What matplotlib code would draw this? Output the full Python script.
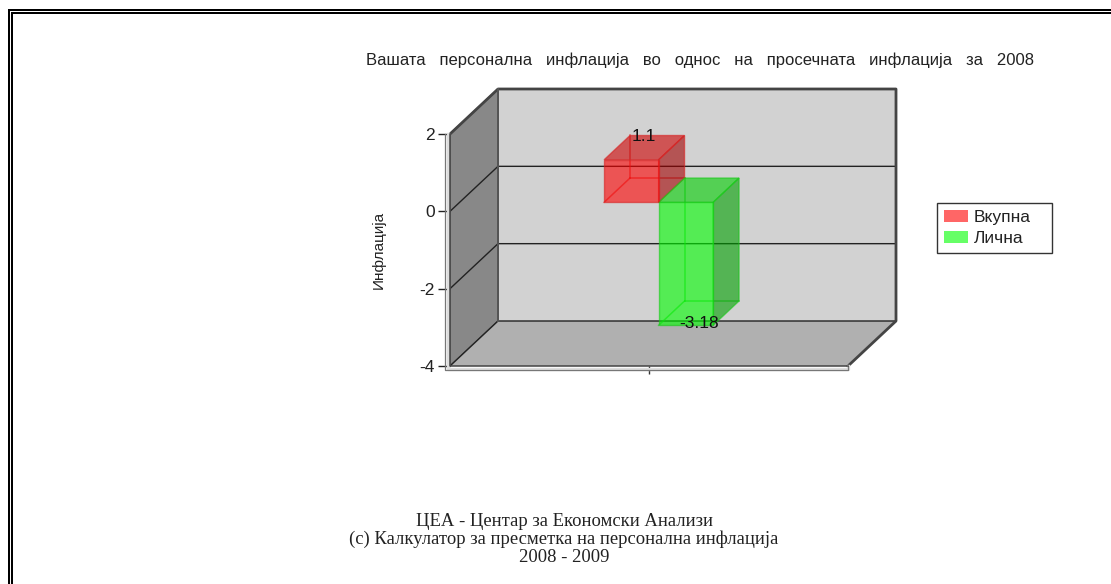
# -*- coding: utf-8 -*-
import numpy as np
import matplotlib
matplotlib.use("Agg")
import matplotlib.pyplot as plt
from matplotlib.patches import Patch, Polygon, Rectangle

# data
title = "Вашата   персонална   инфлација   во   однос   на   просечната   инфлација   за   2008"
series_names = ["Вкупна", "Лична"]
series_values = [1.1, -3.18]
series_labels = ["1.1", "-3.18"]
y_ticks = [-4, -2, 0, 2]
y_title = "Инфлација"
footer_lines = ["ЦЕА - Центар за Економски Анализи",
                "(с) Калкулатор за пресметка на персонална инфлација",
                "2008 - 2009"]

W, H = 1111, 584
BAR_W = 0.137
# depth of the fake 3d box, as axes units
DX = 48 / 398
DY = 45 / 232 * 6
Z0, Z1 = 0.2, 0.74

FACE = {"Вкупна": ("#ff0000", "#cd0000", "#a00000", "#d82020"),
        "Лична": ("#00ff00", "#00d000", "#00a000", "#18c818")}
LEGEND_COLORS = ["#ff6666", "#66ff66"]


def px_axes(fig, x0, y0, x1, y1):
    return fig.add_axes([x0 / W, 1 - y1 / H, (x1 - x0) / W, (y1 - y0) / H])


def shift(x, y, z):
    return (x + z * DX, y + z * DY)


def draw_box(ax, x0, x1, v, names):
    y0, y1 = min(0, v), max(0, v)
    front, top, side, edge = FACE[names]
    c = [shift(x0, y0, Z0), shift(x1, y0, Z0), shift(x1, y1, Z0), shift(x0, y1, Z0)]
    b = [shift(x0, y0, Z1), shift(x1, y0, Z1), shift(x1, y1, Z1), shift(x0, y1, Z1)]
    # hidden edges first
    for p, q in [(b[0], b[1]), (b[0], b[3]), (c[0], b[0])]:
        ax.plot([p[0], q[0]], [p[1], q[1]], color=edge, lw=1.1, alpha=0.6, clip_on=False, zorder=4)
    ax.add_patch(Polygon([c[1], b[1], b[2], c[2]], fc=side, ec=edge, lw=1.0, alpha=0.6, clip_on=False, zorder=5))
    ax.add_patch(Polygon([c[3], c[2], b[2], b[3]], fc=top, ec=edge, lw=1.0, alpha=0.6, clip_on=False, zorder=5))
    ax.add_patch(Polygon(c, fc=front, ec=edge, lw=1.0, alpha=0.6, clip_on=False, zorder=6))


def border_rect(fig, x0, y0, x1, y1):
    fig.add_artist(Rectangle((x0 / W, 1 - y1 / H), (x1 - x0) / W, (y1 - y0) / H, fc="black", ec="none",
                             antialiased=False, transform=fig.transFigure))


def main():
    plt.rcParams["font.family"] = ["Liberation Sans", "DejaVu Sans"]
    plt.rcParams["axes.unicode_minus"] = False
    fig = plt.figure(figsize=(W / 100, H / 100), dpi=100)

    # double page border, runs off the right and the bottom of the page
    border_rect(fig, 8, 9, 10, H)
    border_rect(fig, 8, 9, W, 11)
    border_rect(fig, 11, 12, 13, H)
    border_rect(fig, 11, 12, W, 14)

    ax = px_axes(fig, 450, 134, 848, 366)
    ax.set_xlim(0, 1)
    ax.set_ylim(-4, 2)
    ax.patch.set_visible(False)
    for s in ax.spines.values():
        s.set_visible(False)

    lo, hi = ax.get_ylim()
    # walls
    ax.add_patch(Polygon([shift(0, lo, 1), shift(1, lo, 1), shift(1, hi, 1), shift(0, hi, 1)],
                         fc="#d2d2d2", ec="none", clip_on=False, zorder=1))
    ax.add_patch(Polygon([(0, lo), shift(0, lo, 1), shift(0, hi, 1), (0, hi)],
                         fc="#888888", ec="#444444", lw=1.0, clip_on=False, zorder=1))
    ax.add_patch(Polygon([(0, lo), (1, lo), shift(1, lo, 1), shift(0, lo, 1)],
                         fc="#b0b0b0", ec="none", clip_on=False, zorder=1))

    # grid lines, on the side wall and the back wall
    for t in y_ticks:
        ax.plot(*zip((0, t), shift(0, t, 1), shift(1, t, 1)), color="#222222", lw=1.0,
                clip_on=False, zorder=2)
    # thick top and right of back wall, floor edge
    ax.plot(*zip((0, hi), shift(0, hi, 1), shift(1, hi, 1), shift(1, lo, 1), (1, lo)),
            color="#444444", lw=2.0, clip_on=False, zorder=3)
    ax.plot(*zip(shift(0, lo, 1), shift(0, hi, 1)), color="#555555", lw=1.4, clip_on=False, zorder=3)

    # light strip on the front of the box
    ax.plot([-0.006, -0.006, 1.0, 1.0], [hi, lo - 0.07, lo - 0.07, lo], color="#dddddd", lw=2.4,
            clip_on=False, zorder=3)
    ax.plot([-0.012, -0.012, 1.0, 1.0], [hi, lo - 0.1, lo - 0.1, lo], color="#777777", lw=0.9,
            clip_on=False, zorder=3)
    ax.plot([0, 0, 1.0], [hi, lo, lo], color="#444444", lw=1.1, clip_on=False, zorder=3)

    # bars, side by side around the single category
    x_left = 0.5 - BAR_W
    for i, (name, v, lab) in enumerate(zip(series_names, series_values, series_labels)):
        x0 = x_left + i * BAR_W
        draw_box(ax, x0, x0 + BAR_W, v, name)
        xt, yt = shift(x0 + BAR_W / 2, v, 0.47)
        dy = 11 if v > 0 else -10
        ax.annotate(lab, (xt, yt), xytext=(0, dy), textcoords="offset pixels", ha="center", va="center",
                    fontsize=12.5, color="#111111", zorder=8, annotation_clip=False)

    ax.set_yticks(y_ticks)
    ax.set_xticks([0.5])
    ax.set_xticklabels([""])
    ax.tick_params(axis="y", length=8.5, width=1, pad=2.5, labelsize=12.5, color="#222222", labelcolor="#222222")
    ax.tick_params(axis="x", length=5.5, width=1, pad=2, color="#333333", direction="out")

    fig.text(378.5 / W, 1 - 249.5 / H, y_title, rotation=90, ha="center", va="center",
             fontsize=11, color="#222222")
    fig.text(700.5 / W, 1 - 60.5 / H, title, ha="center", va="center", fontsize=12, color="#222222")

    handles = [Patch(fc=c, ec="none") for c in LEGEND_COLORS]
    leg = fig.legend(handles, series_names, loc="upper left", mode="expand",
                     bbox_to_anchor=(937 / W, 1 - 203 / H, 115 / W, 0),
                     bbox_transform=fig.transFigure, fancybox=False, framealpha=1, edgecolor="#333333",
                     fontsize=12.5, borderaxespad=0, handlelength=1.35, handleheight=0.7, handletextpad=0.35,
                     labelspacing=0.3, borderpad=0.42, labelcolor="#222222")
    leg.get_frame().set_linewidth(1.0)

    for yp, line in zip([522, 539, 557], footer_lines):
        fig.text(564 / W, 1 - yp / H, line, ha="center", va="center", fontsize=13.4,
                 family=["Liberation Serif", "DejaVu Serif"], color="#222222")

    fig.savefig("out.png", dpi=100)


if __name__ == "__main__":
    main()
